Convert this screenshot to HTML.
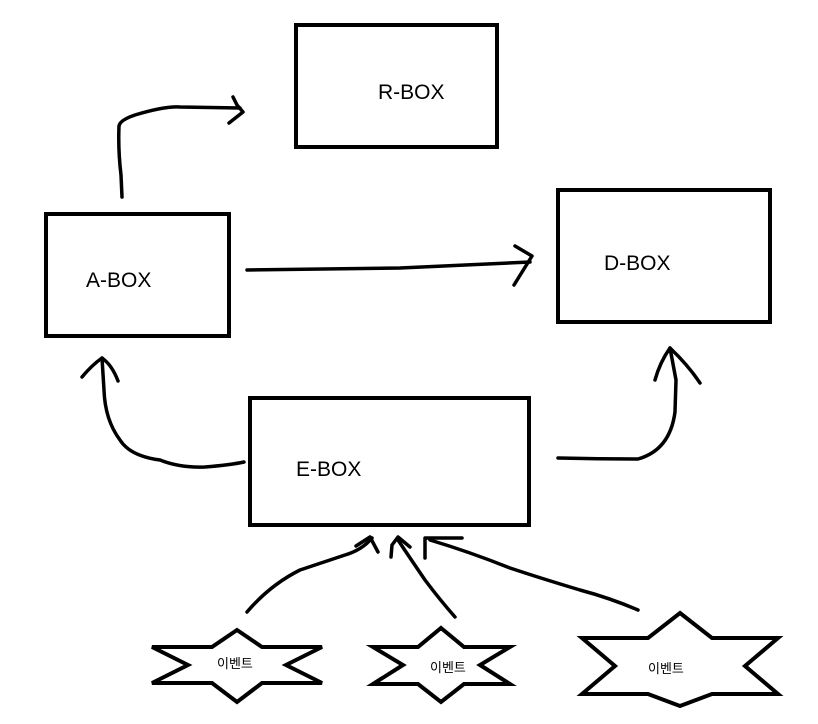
<!DOCTYPE html>
<html><head><meta charset="utf-8"><style>
html,body{margin:0;padding:0;background:#fff;}
svg{display:block;}
text{font-family:"Liberation Sans","Noto Sans CJK KR",sans-serif;fill:#000;}
</style></head><body>
<svg width="818" height="724" viewBox="0 0 818 724" xmlns="http://www.w3.org/2000/svg">
<g fill="none" stroke="#000" stroke-width="4">
<rect x="296" y="25" width="201" height="122"/>
<rect x="46" y="214" width="183" height="122"/>
<rect x="558" y="190" width="212" height="132"/>
<rect x="250" y="398" width="279" height="127"/>
</g>
<g fill="none" stroke="#000" stroke-width="3.5" stroke-linecap="round" stroke-linejoin="round">
<path d="M122,197 L121,175 Q118,150 119,126 Q120,120 135,115 Q165,106 180,107 L240,108"/>
<path d="M233,97 L237,105 L243,112 L229,123"/>
<path d="M247,270 L400,268 L530,262"/>
<path d="M515,246 L532,256 L514,285"/>
<path d="M244,462 Q230,465 205,467 Q180,468 160,460 Q130,456 120,440 Q105,420 104,390 L102,358"/>
<path d="M82,377 Q92,365 102,358 Q112,365 118,381"/>
<path d="M558,458 Q600,459 638,459 Q670,450 675,412 L676,380 L670,348"/>
<path d="M655,380 Q660,362 670,348 Q688,365 700,383"/>
<path d="M247,612 Q270,585 300,570 Q330,560 345,555 Q362,550 372,538"/>
<path d="M356,546 L370,537 L378,552"/>
<path d="M455,617 Q440,600 425,580 Q410,558 398,540"/>
<path d="M391,557 L392,545 L398,537 L410,547"/>
<path d="M638,610 Q610,598 580,590 Q540,578 510,568 Q470,552 430,540"/>
<path d="M425,558 L425,538 L462,538"/>
</g>
<g fill="#fff" stroke="#000" stroke-width="4" stroke-linejoin="miter">
<polygon points="237,630 262,647 322,647 286,665 322,683 262,683 237,702 212,683 152,683 188,665 152,647 212,647"/>
<polygon points="441,628 464,647 510,647 480,665 510,684 464,684 441,702 418,684 373,684 403,665 373,647 418,647"/>
<polygon points="680,613 712,638 778,638 745,666 778,694 712,694 680,706 648,694 582,694 615,666 582,638 648,638"/>
</g>
<g font-size="21">
<text x="378" y="99">R-BOX</text>
<text x="86" y="287">A-BOX</text>
<text x="604" y="270">D-BOX</text>
<text x="296" y="476">E-BOX</text>
</g>
<g font-size="13">
<text x="217" y="668">이벤트</text>
<text x="430" y="672">이벤트</text>
<text x="648" y="673">이벤트</text>
</g>
</svg>
</body></html>
